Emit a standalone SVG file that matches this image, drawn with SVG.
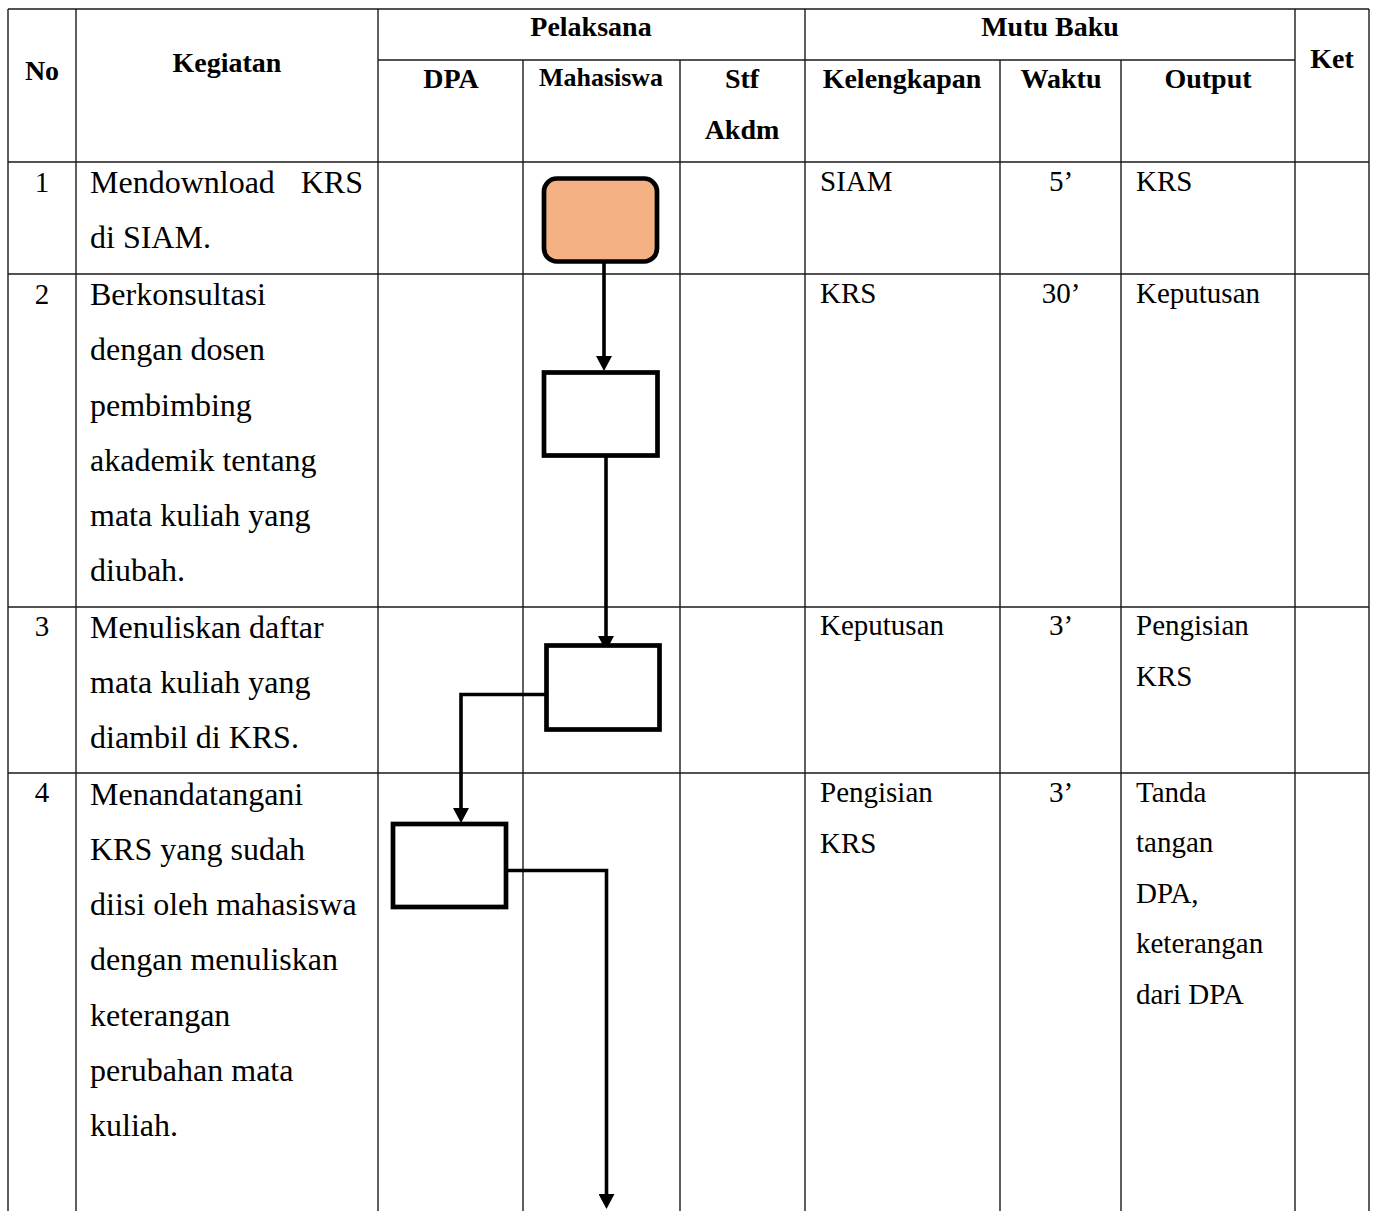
<svg xmlns="http://www.w3.org/2000/svg" width="1374" height="1211" viewBox="0 0 1374 1211">
<defs>
<style>
.grid line{stroke:#1a1a1a;stroke-width:1.4}
.hd{font-family:"Liberation Serif","Times New Roman",serif;font-weight:bold;font-size:28px;fill:#000;text-anchor:middle}
.tx{font-family:"Liberation Serif","Times New Roman",serif;font-size:32px;fill:#000}
.sm{font-family:"Liberation Serif","Times New Roman",serif;font-size:29px;fill:#000}
.mid{text-anchor:middle}
.box{fill:#fff;stroke:#000;stroke-width:4.7}
.start{fill:#F4B183;stroke:#000;stroke-width:4.7}
.conn{fill:none;stroke:#000;stroke-width:3.6;stroke-linejoin:miter}
</style>
<marker id="arr" markerUnits="userSpaceOnUse" markerWidth="16" markerHeight="16" refX="4" refY="8" orient="auto">
<path d="M0,0 L15,8 L0,16 Z" fill="#000"/>
</marker>
</defs>
<rect width="1374" height="1211" fill="#fff"/>

<g id="table" class="grid">
<line x1="8" y1="9" x2="1369" y2="9"/>
<line x1="378" y1="60" x2="1295" y2="60"/>
<line x1="8" y1="162" x2="1369" y2="162"/>
<line x1="8" y1="274" x2="1369" y2="274"/>
<line x1="8" y1="607" x2="1369" y2="607"/>
<line x1="8" y1="773" x2="1369" y2="773"/>
<line x1="8" y1="9" x2="8" y2="1211"/>
<line x1="76" y1="9" x2="76" y2="1211"/>
<line x1="378" y1="9" x2="378" y2="1211"/>
<line x1="523" y1="60" x2="523" y2="1211"/>
<line x1="680" y1="60" x2="680" y2="1211"/>
<line x1="805" y1="9" x2="805" y2="1211"/>
<line x1="1000" y1="60" x2="1000" y2="1211"/>
<line x1="1121" y1="60" x2="1121" y2="1211"/>
<line x1="1295" y1="9" x2="1295" y2="1211"/>
<line x1="1369" y1="9" x2="1369" y2="1211"/>
</g>

<g id="header">
<text class="hd" x="42" y="80">No</text>
<text class="hd" x="227" y="72">Kegiatan</text>
<text class="hd" x="591" y="36">Pelaksana</text>
<text class="hd" x="1050" y="36">Mutu Baku</text>
<text class="hd" x="1332" y="68">Ket</text>
<text class="hd" x="451" y="88">DPA</text>
<text class="hd" x="601" y="86" style="font-size:26px">Mahasiswa</text>
<text class="hd" x="742" y="88">Stf</text>
<text class="hd" x="742" y="139">Akdm</text>
<text class="hd" x="902" y="88">Kelengkapan</text>
<text class="hd" x="1061" y="88">Waktu</text>
<text class="hd" x="1208" y="88">Output</text>
</g>

<g id="row1">
<text class="sm mid" x="42" y="192">1</text>
<text class="tx" x="90" y="193">Mendownload</text>
<text class="tx" x="363" y="193" text-anchor="end">KRS</text>
<text class="tx" x="90" y="248">di SIAM.</text>
<text class="sm" x="820" y="191">SIAM</text>
<text class="sm mid" x="1061" y="191">5’</text>
<text class="sm" x="1136" y="191">KRS</text>
</g>

<g id="row2">
<text class="sm mid" x="42" y="304">2</text>
<text class="tx" x="90" y="305">Berkonsultasi</text>
<text class="tx" x="90" y="360">dengan dosen</text>
<text class="tx" x="90" y="416">pembimbing</text>
<text class="tx" x="90" y="471">akademik tentang</text>
<text class="tx" x="90" y="526">mata kuliah yang</text>
<text class="tx" x="90" y="581">diubah.</text>
<text class="sm" x="820" y="303">KRS</text>
<text class="sm mid" x="1061" y="303">30’</text>
<text class="sm" x="1136" y="303">Keputusan</text>
</g>

<g id="row3">
<text class="sm mid" x="42" y="636">3</text>
<text class="tx" x="90" y="638">Menuliskan daftar</text>
<text class="tx" x="90" y="693">mata kuliah yang</text>
<text class="tx" x="90" y="748">diambil di KRS.</text>
<text class="sm" x="820" y="635">Keputusan</text>
<text class="sm mid" x="1061" y="635">3’</text>
<text class="sm" x="1136" y="635">Pengisian</text>
<text class="sm" x="1136" y="686">KRS</text>
</g>

<g id="row4">
<text class="sm mid" x="42" y="802">4</text>
<text class="tx" x="90" y="805">Menandatangani</text>
<text class="tx" x="90" y="860">KRS yang sudah</text>
<text class="tx" x="90" y="915">diisi oleh mahasiswa</text>
<text class="tx" x="90" y="970">dengan menuliskan</text>
<text class="tx" x="90" y="1026">keterangan</text>
<text class="tx" x="90" y="1081">perubahan mata</text>
<text class="tx" x="90" y="1136">kuliah.</text>
<text class="sm" x="820" y="802">Pengisian</text>
<text class="sm" x="820" y="853">KRS</text>
<text class="sm mid" x="1061" y="802">3’</text>
<text class="sm" x="1136" y="802">Tanda</text>
<text class="sm" x="1136" y="852">tangan</text>
<text class="sm" x="1136" y="903">DPA,</text>
<text class="sm" x="1136" y="953">keterangan</text>
<text class="sm" x="1136" y="1004">dari DPA</text>
</g>

<g id="connectors">
<path class="conn" d="M604,263 L604,360" marker-end="url(#arr)"/>
<path class="conn" d="M606,457 L606,640" marker-end="url(#arr)"/>
<path class="conn" d="M550,694.5 L461,694.5 L461,812" marker-end="url(#arr)"/>
<path class="conn" d="M508,870.5 L606.5,870.5 L606.5,1198" marker-end="url(#arr)"/>
</g>

<g id="node-download">
<rect class="start" x="544" y="178.5" width="113" height="83" rx="13"/>
</g>
<g id="node-konsultasi">
<rect class="box" x="544" y="372.5" width="113.5" height="83"/>
</g>
<g id="node-menulis">
<rect class="box" x="546.5" y="645.5" width="113" height="84"/>
</g>
<g id="node-ttd">
<rect class="box" x="393" y="824" width="113" height="83"/>
</g>
</svg>
